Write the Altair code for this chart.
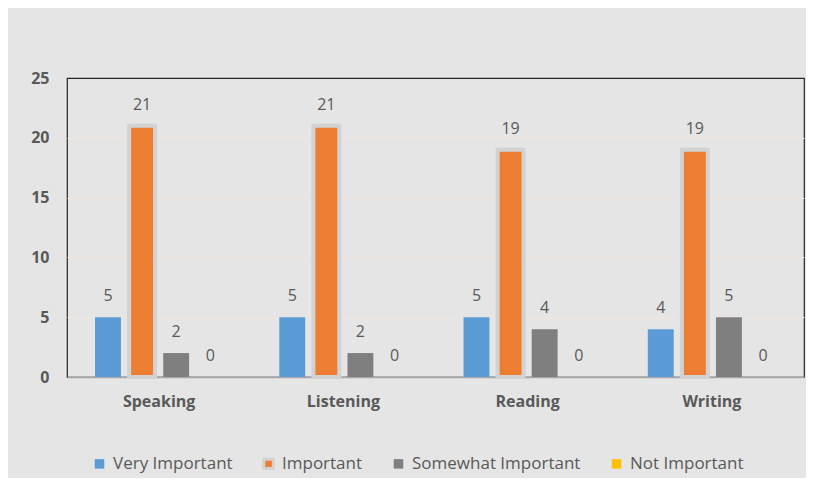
import altair as alt
import pandas as pd

skills = ["Speaking", "Listening", "Reading", "Writing"]
ratings = ["Very Important", "Important", "Somewhat Important", "Not Important"]
very_important = [5, 5, 5, 4]
important = [21, 21, 19, 19]
somewhat_important = [2, 2, 4, 5]
not_important = [0, 0, 0, 0]
colors = ["#5B9BD5", "#ED7D31", "#7F7F7F", "#FFC000"]
halo = ["transparent", "#d2d2d2", "transparent", "transparent"]

rows = []
for r, vals in zip(ratings, [very_important, important, somewhat_important, not_important]):
    for s, v in zip(skills, vals):
        rows.append({"Skill": s, "Rating": r, "Count": v})
df = pd.DataFrame(rows)

FONT = "Open Sans"
TXT = "#595959"

x = alt.X("Skill:N", sort=skills, title=None,
          scale=alt.Scale(paddingInner=0.26, paddingOuter=0.13),
          axis=alt.Axis(labelAngle=0, labelFontWeight="bold", labelFontSize=16,
                        labelColor=TXT, labelPadding=16, ticks=False,
                        domainColor="#a6a6a6", domainWidth=1.5, labelFont=FONT))
xo = alt.XOffset("Rating:N", sort=ratings, scale=alt.Scale(paddingInner=0.24, paddingOuter=0.12))
y = alt.Y("Count:Q", title=None,
          scale=alt.Scale(domain=[0, 25], nice=False),
          axis=alt.Axis(values=[0, 5, 10, 15, 20, 25], labelFontWeight="bold", labelFontSize=16,
                        labelColor=TXT, labelPadding=18, ticks=False, domain=False,
                        gridColor="#f3e5da", gridWidth=1, labelFont=FONT,
                        gridOpacity={"condition": {"test": "datum.value >= 25 || datum.value <= 0",
                                                   "value": 0}, "value": 1}))

leg = alt.Legend(title=None, orient="none", direction="horizontal", legendX=24, legendY=377,
                 labelFontSize=17, labelColor=TXT, labelFont=FONT, symbolType="square",
                 symbolSize=90, symbolStrokeWidth=3, columnPadding=24, labelOffset=5,
                 labelLimit=400)

bars = alt.Chart(df).mark_bar(strokeWidth=4).encode(
    x=x, xOffset=xo, y=y,
    color=alt.Color("Rating:N", sort=ratings, scale=alt.Scale(domain=ratings, range=colors), legend=leg),
    stroke=alt.Stroke("Rating:N", sort=ratings, scale=alt.Scale(domain=ratings, range=halo), legend=leg),
)

labels = alt.Chart(df).mark_text(dy=-21, baseline="middle", fontSize=16, color=TXT, font=FONT).encode(
    x=x, xOffset=xo, y=y, text=alt.Text("Count:Q")
)

chart = alt.layer(bars, labels).properties(
    width=737, height=299,
    autosize=alt.AutoSizeParams(type="none"),
    padding={"left": 59, "top": 70, "right": 2, "bottom": 101},
    background="#e5e5e5",
).configure_view(stroke="#262626", strokeWidth=1.2)

chart.save("out.html", embed_options={"renderer": "svg", "actions": False})
